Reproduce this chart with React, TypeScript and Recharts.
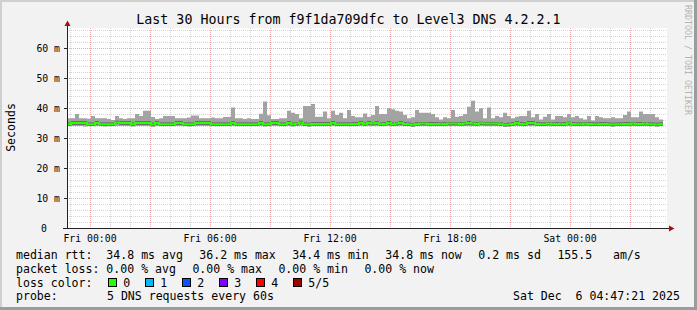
import { ComposedChart, Area, Line, XAxis, YAxis, CartesianGrid } from "recharts"

// hours relative to Fri 00:00, one sample per 12 minutes
const T_START = -1.15
const STEP = 0.2
const T_SPAN = 30

const maxRtt = [
  36.6, 36.6, 38.0, 36.6, 36.6, 36.4, 37.3, 36.6, 36.6, 36.6,
  36.3, 36.0, 37.3, 36.6, 36.3, 36.6, 36.6, 38.0, 37.3, 39.1,
  39.1, 37.0, 36.3, 36.6, 37.3, 37.3, 37.3, 36.6, 36.6, 36.6,
  36.8, 37.5, 37.5, 36.6, 36.6, 36.6, 36.8, 36.6, 36.6, 37.0,
  37.0, 40.2, 36.6, 36.6, 36.3, 36.6, 36.3, 36.3, 38.1, 42.2,
  37.6, 36.3, 36.3, 36.6, 36.6, 39.1, 38.4, 38.0, 36.6, 40.7,
  40.7, 41.3, 37.1, 37.1, 38.8, 36.6, 39.1, 37.7, 38.4, 36.6,
  39.3, 37.3, 36.9, 36.9, 38.2, 37.1, 37.7, 40.7, 38.0, 38.0,
  39.9, 39.6, 39.1, 38.8, 37.7, 36.6, 36.9, 39.3, 38.4, 38.4,
  38.4, 38.0, 36.9, 36.2, 36.9, 36.6, 39.3, 37.1, 37.3, 38.0,
  40.4, 42.4, 38.8, 39.9, 36.6, 40.2, 36.6, 37.3, 36.9, 38.4,
  37.3, 36.6, 37.1, 37.3, 37.3, 39.1, 36.9, 38.0, 36.2, 37.1,
  38.0, 36.2, 37.3, 37.3, 36.9, 38.0, 36.9, 37.3, 36.6, 36.2,
  37.3, 35.8, 37.3, 36.9, 36.6, 36.6, 36.9, 36.6, 36.6, 37.7,
  38.8, 36.9, 36.9, 38.8, 38.0, 38.0, 38.0, 36.9, 36.2,
]

const medRtt = [
  34.6, 35.0, 35.0, 35.0, 35.0, 34.6, 34.6, 35.0, 34.6, 34.6,
  34.6, 34.6, 35.2, 35.0, 35.0, 35.0, 34.6, 35.0, 35.0, 35.0,
  35.0, 34.5, 35.0, 34.6, 34.6, 34.6, 34.6, 35.0, 35.0, 34.6,
  34.6, 34.6, 35.0, 35.0, 35.0, 35.0, 34.6, 34.6, 34.6, 34.6,
  34.6, 35.0, 34.6, 34.6, 34.6, 34.6, 34.6, 34.6, 35.0, 34.6,
  34.6, 35.0, 35.0, 34.6, 34.6, 35.0, 34.6, 34.8, 35.2, 34.6,
  34.5, 34.7, 34.7, 34.7, 34.7, 34.7, 35.0, 34.6, 34.6, 34.6,
  34.6, 34.7, 34.7, 35.0, 34.6, 35.0, 34.8, 35.0, 34.6, 34.7,
  35.0, 34.6, 34.8, 35.0, 34.7, 34.6, 34.4, 34.7, 34.8, 34.8,
  34.7, 34.7, 34.7, 34.6, 34.7, 34.8, 34.8, 34.8, 34.7, 34.8,
  35.0, 34.8, 34.7, 34.9, 34.8, 34.8, 34.8, 34.8, 34.6, 34.4,
  34.5, 34.7, 35.0, 34.7, 34.6, 35.0, 35.0, 34.7, 34.6, 34.6,
  34.8, 34.6, 34.7, 34.6, 34.7, 34.9, 34.7, 34.6, 34.6, 34.8,
  34.7, 34.6, 34.6, 34.7, 34.7, 34.6, 34.5, 34.6, 34.6, 34.7,
  34.7, 34.8, 34.7, 34.7, 34.8, 34.6, 34.6, 34.5, 34.6,
]

const minRtt = [
  34.0, 34.0, 34.0, 34.0, 33.8, 34.0, 34.0, 34.0, 34.0, 33.8,
  34.0, 34.0, 34.0, 34.0, 34.0, 34.0, 33.8, 34.0, 34.0, 34.0,
  34.0, 33.8, 34.0, 34.0, 34.0, 34.0, 34.0, 34.0, 34.0, 34.0,
  33.8, 34.0, 34.0, 34.0, 34.0, 34.0, 34.0, 34.0, 34.0, 34.0,
  34.0, 34.0, 34.0, 34.0, 34.0, 34.0, 34.0, 34.0, 34.0, 33.8,
  34.0, 34.0, 34.0, 34.0, 34.0, 34.0, 33.8, 34.0, 34.0, 34.0,
  33.8, 34.0, 34.0, 34.0, 34.0, 34.0, 34.0, 34.0, 34.0, 34.0,
  34.0, 34.0, 34.0, 34.0, 34.0, 34.0, 34.0, 34.0, 34.0, 34.0,
  34.0, 34.0, 34.0, 34.0, 34.0, 34.0, 33.8, 34.0, 34.0, 34.0,
  34.0, 34.0, 34.0, 34.0, 34.0, 34.0, 34.0, 34.0, 34.0, 34.0,
  34.0, 34.0, 34.0, 34.0, 34.0, 34.0, 34.0, 34.0, 34.0, 33.8,
  33.8, 34.0, 34.0, 34.0, 34.0, 34.0, 34.0, 34.0, 34.0, 34.0,
  34.0, 34.0, 34.0, 34.0, 34.0, 34.0, 34.0, 34.0, 34.0, 34.0,
  34.0, 34.0, 34.0, 34.0, 34.0, 34.0, 33.8, 34.0, 34.0, 34.0,
  34.0, 34.0, 34.0, 34.0, 34.0, 34.0, 34.0, 33.8, 34.0,
]

const xTicks = [0, 6, 12, 18, 24]
const xLabels = ["Fri 00:00", "Fri 06:00", "Fri 12:00", "Fri 18:00", "Sat 00:00"]
const yTicks = [0, 10, 20, 30, 40, 50, 60]
const minorHours = [-1, 1, 2, 4, 5, 7, 8, 10, 11, 13, 14, 16, 17, 19, 20, 22, 23, 25, 26, 28]
const majorHours = [0, 3, 6, 9, 12, 15, 18, 21, 24, 27]
const minorRows = [2, 4, 6, 8, 12, 14, 16, 18, 22, 24, 26, 28, 32, 34, 36, 38, 42, 44, 46, 48, 52, 54, 56, 58, 62, 64, 66]
const majorRows = [10, 20, 30, 40, 50, 60]

const rttRow: [number, string][] = [
  [16, "median rtt:  34.8 ms avg"], [199.3, "36.2 ms max"], [292.3, "34.4 ms min"],
  [385.3, "34.8 ms now"], [478.3, "0.2 ms sd"], [557.4, "155.5   am/s"],
]
const lossRow: [number, string][] = [
  [16, "packet loss: 0.00 % avg"], [192.4, "0.00 % max"], [278.4, "0.00 % min"], [364.4, "0.00 % now"],
]
const lossColors = [
  { label: "0", color: "#26ff00" },
  { label: "1", color: "#00b8ff" },
  { label: "2", color: "#0059ff" },
  { label: "3", color: "#7e00ff" },
  { label: "4", color: "#ff0000" },
  { label: "5/5", color: "#a10000" },
]
const probeRow: [number, string][] = [
  [16, "probe:"], [107, "5 DNS requests every 60s"], [513, "Sat Dec  6 04:47:21 2025"],
]

const rows = maxRtt.map((mx, i) => ({
  t: T_START + i * STEP,
  full: [minRtt[i], mx],
  core: [medRtt[i] - 0.55, medRtt[i] + 0.55],
  med: medRtt[i],
}))
// close the last step
rows.push({ ...rows[rows.length - 1], t: T_START + maxRtt.length * STEP })

const MONO = "'DejaVu Sans Mono', monospace"

const XTick = ({ x, payload }: any) => (
  <text x={x} y={241.5} textAnchor="middle" fontSize={9.8} fontFamily={MONO} fill="#000">
    {xLabels[xTicks.indexOf(payload.value)]}
  </text>
)

const YTick = ({ y, payload }: any) => (
  <text x={payload.value === 0 ? 47 : 60} y={y + 3.7} textAnchor="end" fontSize={9.8} fontFamily={MONO} fill="#000">
    {payload.value === 0 ? "0" : `${payload.value} m`}
  </text>
)

const txt = { fontFamily: MONO, fontSize: 11.55, fill: "#000", style: { whiteSpace: "pre" as const } }

export default function App() {
  return (
    <div style={{ position: "absolute", left: 0, top: 0, width: 697, height: 310, background: "#f2f2f2", overflow: "hidden" }}>
      <style>{`.recharts-cartesian-grid line { shape-rendering: crispEdges; }`}</style>
      <ComposedChart width={697} height={310} data={rows} margin={{ top: 28, right: 30, bottom: 62, left: 0 }}>
        <CartesianGrid fill="#ffffff" stroke="#d4d4d4" strokeDasharray="1 1" horizontalValues={minorRows} verticalValues={minorHours} />
        <CartesianGrid stroke="#f0acac" strokeDasharray="1 1" horizontalValues={majorRows} verticalValues={majorHours} />
        <XAxis dataKey="t" type="number" domain={[T_START, T_START + T_SPAN]} allowDataOverflow ticks={xTicks} tick={<XTick />} axisLine={false} tickLine={false} height={20} interval={0} />
        <YAxis type="number" domain={[0, 66.67]} allowDataOverflow ticks={yTicks} tick={<YTick />} axisLine={false} tickLine={false} width={67} interval={0} />
        <Area dataKey="full" type="stepAfter" stroke="none" fill="#a3a3a3" fillOpacity={1} isAnimationActive={false} dot={false} activeDot={false} />
        <Area dataKey="core" type="stepAfter" stroke="none" fill="#5e5e5e" fillOpacity={1} isAnimationActive={false} dot={false} activeDot={false} />
        <Line dataKey="med" type="stepAfter" stroke="#26ff00" strokeWidth={2} dot={false} activeDot={false} isAnimationActive={false} />
      </ComposedChart>
      <svg width={697} height={310} style={{ position: "absolute", left: 0, top: 0, pointerEvents: "none" }}>
        {/* shaded border */}
        <rect x={0} y={0} width={697} height={2} fill="#d0d0d0" />
        <rect x={0} y={0} width={2} height={310} fill="#d0d0d0" />
        <rect x={694} y={0} width={3} height={310} fill="#9c9c9c" />
        <rect x={0} y={307} width={697} height={3} fill="#9c9c9c" />

        <text x={348.5} y={24} textAnchor="middle" fontFamily={MONO} fontSize={13.3} fill="#000">
          Last 30 Hours from f9f1da709dfc to Level3 DNS 4.2.2.1
        </text>
        <text transform="translate(14.5,127.5) rotate(-90)" textAnchor="middle" {...txt}>Seconds</text>
        <text transform="translate(685,5) rotate(90)" fontFamily={MONO} fontSize={8.3} fill="#b4b4b4">
          RRDTOOL / TOBI OETIKER
        </text>

        {/* axes */}
        <line x1={67.5} y1={228} x2={67.5} y2={24} stroke="#222" />
        <polygon points="64.5,26 70.5,26 67.5,20.5" fill="#a81010" />
        <line x1={63} y1={228.5} x2={670} y2={228.5} stroke="#222" />
        <polygon points="669,225.5 669,231.5 674.5,228.5" fill="#a81010" />
        {yTicks.slice(1).map((v) => (
          <line key={v} x1={64} x2={67} y1={228.5 - v * 3} y2={228.5 - v * 3} stroke="#222" />
        ))}

        {/* legend */}
        {rttRow.map(([x, s]) => (
          <text key={s} x={x} y={259} {...txt}>{s}</text>
        ))}
        {lossRow.map(([x, s]) => (
          <text key={s + x} x={x} y={272.5} {...txt}>{s}</text>
        ))}
        <text x={16} y={286.5} {...txt}>loss color:</text>
        {lossColors.map((c, i) => (
          <g key={c.label}>
            <rect x={108.5 + i * 37} y={278.5} width={8} height={8} fill={c.color} stroke="#000" />
            <text x={123.3 + i * 37} y={286.5} {...txt}>{c.label}</text>
          </g>
        ))}
        {probeRow.map(([x, s]) => (
          <text key={s} x={x} y={300} {...txt}>{s}</text>
        ))}
      </svg>
    </div>
  )
}
